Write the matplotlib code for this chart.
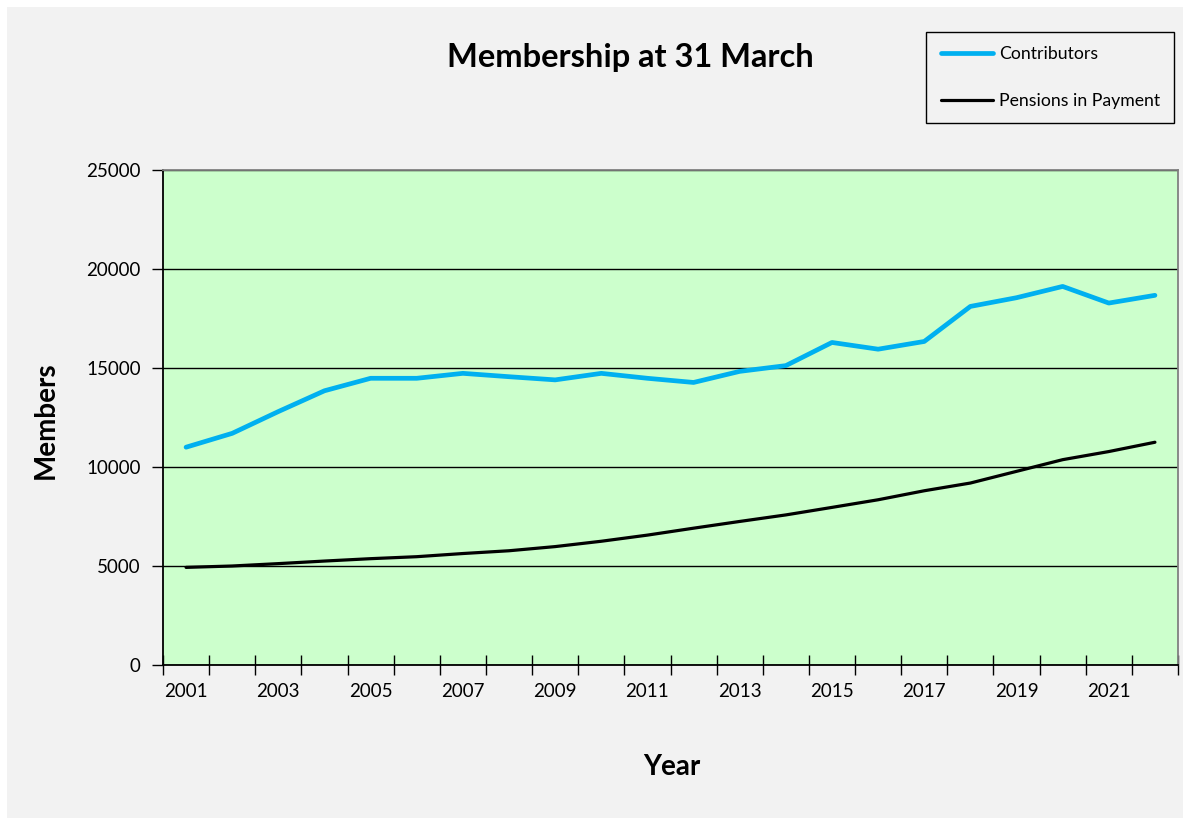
import matplotlib
matplotlib.use("Agg")
import matplotlib.pyplot as plt
from matplotlib.patches import Rectangle

years = list(range(2001, 2023))
contributors = [11000, 11700, 12800, 13850, 14480, 14480, 14730, 14560, 14400, 14730,
                14480, 14270, 14830, 15120, 16290, 15950, 16340, 18110, 18550, 19120,
                18280, 18670]
pensions = [4930, 5000, 5120, 5250, 5370, 5470, 5630, 5770, 5980, 6250,
            6560, 6910, 7250, 7580, 7960, 8345, 8800, 9190, 9780, 10370,
            10780, 11250]
y_ticks = [0, 5000, 10000, 15000, 20000, 25000]

plt.rcParams['font.family'] = ['Lato', 'DejaVu Sans']

W, H = 1190, 825
fig = plt.figure(figsize=(W / 100, H / 100), dpi=100)
fig.patch.set_facecolor('white')
fig.patches.append(Rectangle((7 / W, 7 / H), 1 - 14 / W, 1 - 14 / H, transform=fig.transFigure,
                             facecolor='#f2f2f2', edgecolor='none', zorder=-10))

ax = fig.add_axes([163 / W, 1 - 665 / H, (1178 - 163) / W, (665 - 170) / H])
ax.set_facecolor('#ccffcc')

x = list(range(len(years)))
ax.plot(x, contributors, color='#00b0f0', lw=3.4, solid_capstyle='round', label='Contributors', zorder=3)
ax.plot(x, pensions, color='black', lw=2.3, solid_capstyle='round', label='Pensions in Payment', zorder=3)

ax.set_xlim(-0.5, len(years) - 0.5)
ax.set_ylim(0, 25000)
ax.set_yticks(y_ticks)
ax.set_yticklabels([str(v) for v in y_ticks], fontsize=13.5)
ax.yaxis.grid(True, color='black', lw=1.0)
ax.set_axisbelow(True)

# x ticks: major at category boundaries (marks), minor at centres (labels)
ax.set_xticks([i - 0.5 for i in range(len(years) + 1)])
ax.set_xticklabels([])
ax.set_xticks(x[::2], minor=True)
ax.set_xticklabels([str(y) for y in years[::2]], minor=True, fontsize=13.5)
ax.tick_params(axis='x', which='major', direction='inout', length=14, width=1, color='black')
ax.tick_params(axis='x', which='minor', length=0, pad=13)
ax.tick_params(axis='y', direction='out', length=8, width=1, pad=8)

for s in ['left', 'bottom']:
    ax.spines[s].set_color('black')
    ax.spines[s].set_linewidth(1.3)
for s in ['top', 'right']:
    ax.spines[s].set_color('#808080')
    ax.spines[s].set_linewidth(1.3)

fig.text(630 / W, 1 - 57 / H, 'Membership at 31 March', ha='center', va='center',
         fontsize=23.5, fontweight='bold')
fig.text(672 / W, 1 - 767 / H, 'Year', ha='center', va='center', fontsize=20, fontweight='bold')
fig.text(46 / W, 1 - 420 / H, 'Members', ha='center', va='center', rotation=90,
         fontsize=20, fontweight='bold')

leg = fig.legend(loc='upper right', bbox_to_anchor=(1174 / W, 1 - 32 / H), fontsize=12.7,
                 frameon=True, fancybox=False, edgecolor='black', facecolor='#f2f2f2',
                 handlelength=3.0, labelspacing=1.75, borderpad=0.8, handletextpad=0.3,
                 borderaxespad=0)
leg.get_frame().set_linewidth(1.0)
leg.get_frame().set_alpha(None)

fig.savefig('out.png', dpi=100)
